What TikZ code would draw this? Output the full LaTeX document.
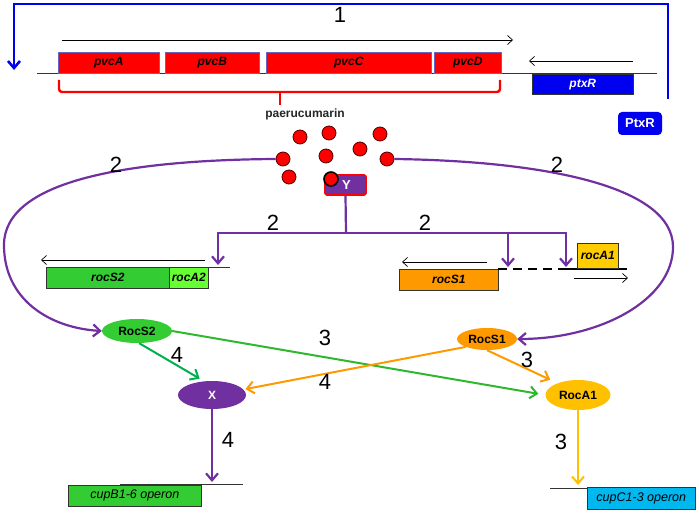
\documentclass[tikz,border=0pt]{standalone}
\usepackage{fontspec}
\setmainfont{Liberation Sans}
\usetikzlibrary{arrows.meta,shapes.geometric}

\definecolor{pvcred}{HTML}{FF0000}
\definecolor{ptxblue}{HTML}{0000F0}
\definecolor{rocpurple}{HTML}{7030A0}
\definecolor{rocgreen}{HTML}{33CC33}
\definecolor{lightgreen}{HTML}{66FF33}
\definecolor{darkgreen}{HTML}{00B050}
\definecolor{rocorange}{HTML}{FF9900}
\definecolor{rocgold}{HTML}{FFC000}
\definecolor{boxgold}{HTML}{FFCC00}
\definecolor{cupcyan}{HTML}{00B8F0}

\tikzset{
  gene/.style={draw=#1, line width=0.6pt, anchor=north west, inner sep=0pt,
    font=\bfseries\itshape\fontsize{12}{12}\selectfont},
  gene/.default={black!80},
  operon/.style={gene, font=\itshape\fontsize{12.5}{12.5}\selectfont},
  prot/.style={ellipse, inner sep=0pt, font=\bfseries\fontsize{12}{12}\selectfont},
  pdot/.style={circle, fill=pvcred, draw=black!70!red, line width=0.8pt,
    minimum size=14pt, inner sep=0pt},
  num/.style={font=\fontsize{22}{22}\selectfont},
  dna/.style={black!80, line width=0.7pt},
  thinarrow/.style={black, line width=0.7pt, -{Straight Barb[length=5pt,width=9pt]}},
  purpline/.style={rocpurple, line width=2.2pt},
  purparrow/.style={purpline, -{Straight Barb[length=7pt,width=12pt]}},
  colarrow/.style={draw=#1, line width=2pt, -{Straight Barb[length=7pt,width=12pt]}},
  feedback/.style={ptxblue, line width=2.6pt, -{Straight Barb[length=7pt,width=12pt]}},
  brace/.style={pvcred, line width=2.4pt, rounded corners=3pt}
}

\begin{document}
\begin{tikzpicture}[x=1pt,y=-1pt]
  \useasboundingbox (0,0) rectangle (699,513);

  % pvc operon and ptxR
  \draw[dna] (37,73) -- (657,73);
  \draw[thinarrow] (62,40) -- (513,40);
  \draw[thinarrow] (633,61) -- (529,61);
  \node[gene=black!40!blue!60, fill=pvcred, minimum width=101pt, minimum height=21pt] (pvcA) at (58,52) {pvcA};
  \node[gene=black!40!blue!60, fill=pvcred, minimum width=94pt, minimum height=21pt] (pvcB) at (165,52) {pvcB};
  \node[gene=black!40!blue!60, fill=pvcred, minimum width=165pt, minimum height=21pt] (pvcC) at (266,52) {pvcC};
  \node[gene=black!40!blue!60, fill=pvcred, minimum width=67pt, minimum height=21pt] (pvcD) at (434,52) {pvcD};
  \node[gene, fill=ptxblue, text=white, minimum width=101pt, minimum height=20pt] (ptxR) at (532,74) {ptxR};

  \node[num] (n1) at (340,15) {1};
  \draw[feedback] (668,99) |- (14,4) -- (14,70);
  \node[fill=ptxblue, text=white, rounded corners=4pt, minimum width=44pt, minimum height=23pt,
    inner sep=0pt, font=\bfseries\fontsize{13}{13}\selectfont] (PtxR) at (640,123.5) {PtxR};

  \draw[brace] (59,80) -- (59,92) -- (500,92) -- (500,80);
  \draw[brace] (280,92) -- (280,105);
  \node[text=black!85, font=\bfseries\fontsize{12}{12}\selectfont] (paer) at (305,114) {paerucumarin};

  % paerucumarin molecules and Y
  \foreach \x/\y [count=\i] in {300/137,329/133,380/134,360/149,326/156,283/159,387/159,289/177}
    \node[pdot] (c\i) at (\x,\y) {};
  \node[fill=rocpurple, draw=pvcred, line width=1.6pt, rounded corners=2pt, minimum width=41pt,
    minimum height=20pt, inner sep=0pt, text=white, font=\bfseries\fontsize{13}{13}\selectfont] (Y) at (345.5,185) {\hspace*{2pt}Y};
  \node[pdot, draw=black, line width=1.6pt] (c9) at (331,179) {};

  \coordinate (split) at (346,233);
  \coordinate (tS2) at (218,265);
  \coordinate (tS1) at (508,267);
  \coordinate (tA1) at (566,267);
  \draw[purpline] (Y.south) -- (split);
  \draw[purparrow] (split) -| (tS2);
  \draw[purparrow] (split) -| (tS1);
  \draw[purparrow] (split) -| (tA1);
  \node[num] (n2a) at (273,223) {2};
  \node[num] (n2b) at (425,223) {2};

  % rocS2/rocA2
  \draw[thinarrow] (205,260) -- (41,260);
  \draw[dna] (46,267) -- (230,267);
  \node[gene, fill=rocgreen, minimum width=123pt, minimum height=21pt] (rocS2) at (46,267) {rocS2};
  \node[gene, fill=lightgreen, minimum width=39pt, minimum height=21pt] (rocA2) at (169,267) {rocA2};

  % rocS1/rocA1
  \draw[thinarrow] (487,262) -- (402,262);
  \draw[dna] (422,269) -- (498,269);
  \node[gene, fill=rocorange, minimum width=99pt, minimum height=21pt] (rocS1) at (399,269) {rocS1};
  \draw[black, line width=2.4pt, dash pattern=on 9pt off 6pt] (498,269) -- (562,269);
  \draw[black, line width=2.4pt] (562,269) -- (627,269);
  \node[gene, fill=boxgold, minimum width=41pt, minimum height=25pt] (rocA1) at (577,243) {rocA1};
  \draw[thinarrow] (574,278) -- (628,278);

  % regulators
  \node[prot, fill=rocgreen, minimum width=70pt, minimum height=24pt] (RocS2) at (137,331) {RocS2};
  \node[prot, fill=rocpurple, text=white, minimum width=68pt, minimum height=28pt] (X) at (212,395) {X};
  \node[prot, fill=rocorange, minimum width=60pt, minimum height=22pt] (RocS1) at (487,339) {RocS1};
  \node[prot, fill=rocgold, minimum width=65pt, minimum height=30pt] (RocA1) at (578,395) {RocA1};

  \draw[purparrow] (c6.west) .. controls (130,160) and (4,180) .. (4,245)
    .. controls (4,300) and (50,328) .. (RocS2.west);
  \draw[purparrow] (c7.east) .. controls (540,161) and (673,185) .. (673,247)
    .. controls (673,300) and (600,339) .. (RocS1.east);
  \node[num] (n2c) at (116,165) {2};
  \node[num] (n2d) at (557,165) {2};

  \draw[colarrow=rocgreen!90!black, shorten >=7pt] (RocS2.east) -- (RocA1.west);
  \draw[colarrow=darkgreen, shorten >=5pt] (RocS2.-80) -- (X.120);
  \draw[colarrow=rocorange, shorten >=2pt] (RocS1.south west) -- (X.10);
  \draw[colarrow=rocorange, shorten >=8pt] (RocS1.south) -- (RocA1.150);
  \node[num] (n3a) at (325,338) {3};
  \node[num] (n4a) at (325,382) {4};
  \node[num] (n4b) at (177,355) {4};
  \node[num] (n3b) at (527,360) {3};

  % target operons
  \coordinate (cupBin) at (212,482);
  \coordinate (cupCin) at (578,485);
  \draw[dna] (120,484) -- (243,484);
  \node[operon, fill=rocgreen, minimum width=133pt, minimum height=21pt] (cupB) at (68,485) {cupB1-6 operon};
  \draw[dna] (550,488) -- (660,488);
  \node[operon, fill=cupcyan, minimum width=108pt, minimum height=22pt] (cupC) at (587,487) {cupC1-3 operon};
  \draw[purparrow] (X.south) -- (cupBin);
  \draw[colarrow=rocgold] (RocA1.south) -- (cupCin);
  \node[num] (n4c) at (228,440) {4};
  \node[num] (n3c) at (561,442) {3};
\end{tikzpicture}
\end{document}
